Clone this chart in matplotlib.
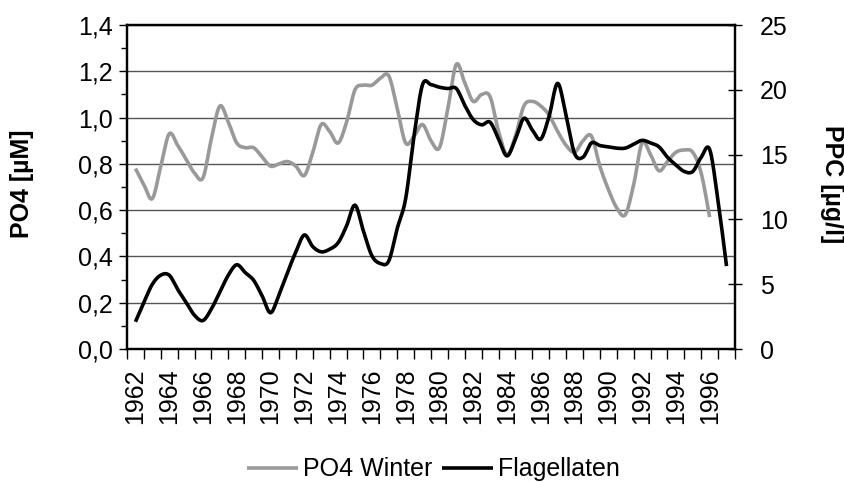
import numpy as np
import matplotlib.pyplot as plt
from matplotlib.ticker import MultipleLocator, FuncFormatter

plt.rcParams['font.family'] = ['Liberation Sans', 'DejaVu Sans']

# half-year sampling, years 1962-1997
years_po4 = np.arange(1962, 1996.01, 0.5)
po4_winter = [0.78, 0.71, 0.65, 0.79, 0.93, 0.88, 0.82, 0.76, 0.74, 0.91,
              1.05, 0.98, 0.89, 0.87, 0.87, 0.83, 0.79, 0.80, 0.81, 0.79,
              0.75, 0.85, 0.97, 0.94, 0.89, 0.98, 1.12, 1.14, 1.14, 1.17,
              1.18, 1.04, 0.89, 0.92, 0.97, 0.90, 0.87, 1.04, 1.23, 1.15,
              1.07, 1.10, 1.09, 0.94, 0.84, 0.92, 1.05, 1.07, 1.05, 1.01,
              0.94, 0.88, 0.85, 0.90, 0.92, 0.79, 0.69, 0.61, 0.58, 0.71,
              0.89, 0.84, 0.77, 0.81, 0.85, 0.86, 0.85, 0.76, 0.57]

years_flag = np.arange(1962, 1997.01, 0.5)
flagellaten = [2.1, 3.6, 5.0, 5.7, 5.7, 4.6, 3.6, 2.6, 2.2, 3.1,
               4.4, 5.7, 6.5, 5.9, 5.3, 4.1, 2.8, 4.2, 5.9, 7.5,
               8.8, 7.9, 7.5, 7.7, 8.2, 9.5, 11.1, 9.1, 7.2, 6.6,
               6.8, 9.3, 11.6, 16.5, 20.4, 20.4, 20.2, 20.1, 20.1, 18.8,
               17.7, 17.3, 17.5, 16.2, 14.9, 16.2, 17.8, 16.9, 16.2, 18.0,
               20.5, 18.0, 15.1, 14.8, 15.9, 15.7, 15.6, 15.5, 15.5, 15.8,
               16.1, 15.9, 15.6, 14.8, 14.2, 13.7, 13.7, 14.8, 15.4, 11.4,
               6.4]

year_labels = np.arange(1962, 1997, 2)


def smooth(x, y, n=12):
    # Catmull-Rom spline through the points, like a smoothed line in a spreadsheet
    x = np.asarray(x, float)
    y = np.asarray(y, float)
    px = np.concatenate([[x[0]], x, [x[-1]]])
    py = np.concatenate([[y[0]], y, [y[-1]]])
    xs, ys = [], []
    t = np.linspace(0, 1, n, endpoint=False)
    for i in range(1, len(px) - 2):
        for p, out in ((px, xs), (py, ys)):
            p0, p1, p2, p3 = p[i - 1], p[i], p[i + 1], p[i + 2]
            out.extend(0.5 * (2 * p1 + (-p0 + p2) * t
                              + (2 * p0 - 5 * p1 + 4 * p2 - p3) * t ** 2
                              + (-p0 + 3 * p1 - 3 * p2 + p3) * t ** 3))
    xs.append(x[-1])
    ys.append(y[-1])
    return np.array(xs), np.array(ys)


fs = 18

fig = plt.figure(figsize=(8.45, 4.82), dpi=100)
ax = fig.add_axes([0.1503, 0.2759, 0.7195, 0.6722])
ax2 = ax.twinx()

sx, sy = smooth(years_po4, po4_winter)
l1, = ax.plot(sx, sy, color='#999999', lw=2.6, solid_capstyle='butt')
fx, fy = smooth(years_flag, flagellaten)
l2, = ax2.plot(fx, fy, color='black', lw=2.6, solid_capstyle='butt')

ax.set_xlim(1961.5, 1997.5)
ax.set_ylim(0, 1.4)
ax2.set_ylim(0, 25)

ax.yaxis.set_major_locator(MultipleLocator(0.2))
ax.yaxis.set_minor_locator(MultipleLocator(0.1))
ax.yaxis.set_major_formatter(FuncFormatter(lambda v, p: f'{v:.1f}'.replace('.', ',')))
ax.grid(axis='y', which='major', color='#555555', lw=1)
ax.set_axisbelow(True)
ax2.yaxis.set_major_locator(MultipleLocator(5))

ax.set_xticks(year_labels)
ax.set_xticklabels([str(y) for y in year_labels], rotation=90)
ax.set_xticks(np.arange(1961.5, 1997.6, 1), minor=True)

ax.tick_params(axis='x', which='major', length=0, pad=14, labelsize=fs)
ax.tick_params(axis='x', which='minor', length=7, width=1, direction='out')
ax.tick_params(axis='y', which='major', length=6, width=1, direction='out',
               pad=4, labelsize=fs)
ax.tick_params(axis='y', which='minor', length=4.5, width=1, direction='out')
ax2.tick_params(axis='y', which='major', length=10, width=1, direction='inout',
                pad=13, labelsize=fs)

for a in (ax, ax2):
    for s in a.spines.values():
        s.set_linewidth(1.6)
        s.set_color('black')

fig.text(22 / 845, 1 - 184 / 482, 'PO4 [µM]', rotation=90, ha='center',
         va='center', fontsize=fs, fontweight='bold')
fig.text(832 / 845, 1 - 184 / 482, 'PPC [µg/l]', rotation=270, ha='center',
         va='center', fontsize=fs, fontweight='bold')

fig.legend([l1, l2], ['PO4 Winter', 'Flagellaten'], loc='center',
           bbox_to_anchor=(0.513, 0.026), ncol=2, frameon=False, fontsize=fs,
           handlelength=2.05, handletextpad=0.2, columnspacing=0.35,
           borderpad=0, borderaxespad=0)

fig.savefig('out.png', dpi=100)
